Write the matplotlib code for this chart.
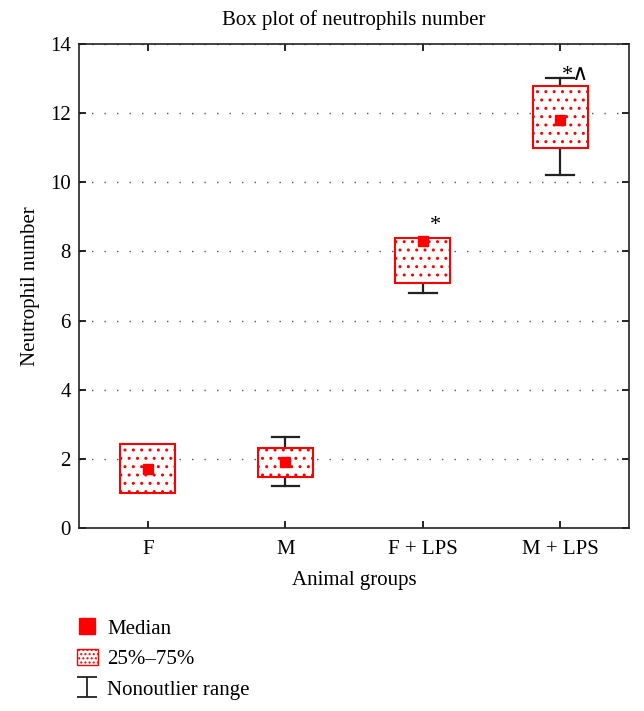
import matplotlib
matplotlib.use('Agg')
import matplotlib.pyplot as plt
from matplotlib.lines import Line2D
from matplotlib.patches import Patch
from matplotlib.path import Path

plt.rcParams['font.family'] = ['Liberation Serif', 'DejaVu Serif']
plt.rcParams['hatch.linewidth'] = 1.0

# Datos
grupos = ['F', 'M', 'F + LPS', 'M + LPS']
q1 = [1.02, 1.48, 7.10, 10.98]
q3 = [2.42, 2.32, 8.40, 12.78]
medianas = [1.72, 1.90, 8.30, 11.80]
bigote_min = [1.02, 1.22, 6.80, 10.20]
bigote_max = [2.42, 2.62, 8.40, 13.02]
marcas = ['', '', '*', '*\u2227']
marca_y = [0, 0, 8.75, 13.1]
marca_dx = [0, 0, 0.09, 0.11]

fig = plt.figure(figsize=(6.44, 7.11), dpi=100)
ax = fig.add_axes([0.1227, 0.2574, 0.8540, 0.6806])

pos = list(range(1, len(grupos) + 1))
ancho = 0.4
tapa = 0.2

# cajas 25%-75%
ax.bar(pos, [b - a for a, b in zip(q1, q3)], bottom=q1, width=ancho,
       facecolor='white', edgecolor='red', hatch='..', linewidth=1.5, zorder=3)

# bigotes (solo si salen de la caja)
for x, a, b, lo, hi in zip(pos, q1, q3, bigote_min, bigote_max):
    if lo < a:
        ax.plot([x, x], [lo, a], color='#222222', lw=1.6, zorder=2)
        ax.plot([x - tapa / 2, x + tapa / 2], [lo, lo], color='#222222', lw=1.6, zorder=2)
    if hi > b:
        ax.plot([x, x], [b, hi], color='#222222', lw=1.6, zorder=2)
        ax.plot([x - tapa / 2, x + tapa / 2], [hi, hi], color='#222222', lw=1.6, zorder=2)

# medianas
ax.plot(pos, medianas, 's', color='red', markersize=7, zorder=4, linestyle='none')

# asteriscos
for x, t, y, dx in zip(pos, marcas, marca_y, marca_dx):
    if t:
        ax.text(x + dx, y, t, ha='center', va='center', fontsize=16,
                family=['Liberation Serif', 'DejaVu Serif'])

ax.set_xlim(0.5, 4.5)
ax.set_ylim(0, 14)
ax.set_xticks(pos)
ax.set_xticklabels(grupos)
ax.set_yticks(range(0, 15, 2))
ax.tick_params(direction='in', top=True, right=True, labelsize=15, length=5, width=1.2)
ax.tick_params(axis='x', pad=9)
ax.tick_params(axis='y', pad=6)
ax.yaxis.grid(True, linestyle=(0, (1, 8)), color='#555555', lw=1.0)
for s in ax.spines.values():
    s.set_linewidth(1.2)
    s.set_color('#222222')

ax.set_title('Box plot of neutrophils number', fontsize=15, pad=14)
ax.set_xlabel('Animal groups', fontsize=15, labelpad=8)
ax.set_ylabel('Neutrophil number', fontsize=15, labelpad=7)

# leyenda
ibeam = Path([(-1, 1), (1, 1), (0, 1), (0, -1), (-1, -1), (1, -1)],
             [Path.MOVETO, Path.LINETO, Path.MOVETO, Path.LINETO, Path.MOVETO, Path.LINETO])
h = [Line2D([], [], marker='s', color='red', linestyle='none', markersize=11),
     Patch(facecolor='white', edgecolor='red', hatch='....', linewidth=1.0),
     Line2D([], [], marker=ibeam, color='#222222', linestyle='none', markersize=14,
            markeredgewidth=1.3)]
fig.legend(h, ['Median', '25%\u201375%', 'Nonoutlier range'], loc='upper left',
           bbox_to_anchor=(0.103, 0.145), frameon=False, fontsize=15,
           handlelength=1.0, handleheight=0.8, handletextpad=0.45,
           labelspacing=0.5, borderpad=0)

fig.savefig('out.png', dpi=100)
